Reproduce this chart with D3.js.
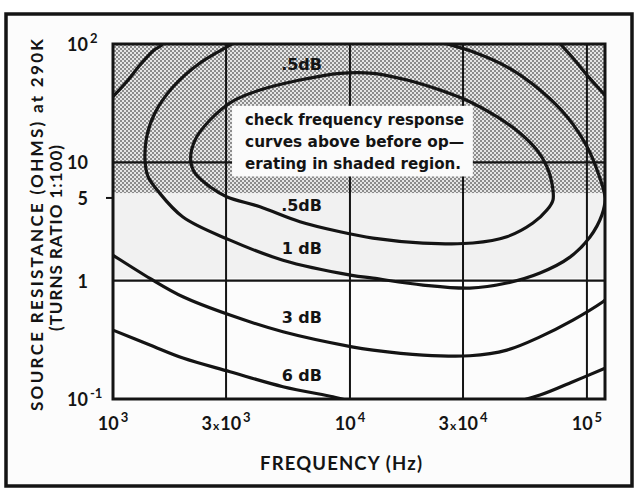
<!DOCTYPE html>
<html><head><meta charset="utf-8">
<script src="https://cdn.jsdelivr.net/npm/d3@7"></script>
<style>html,body{margin:0;padding:0;background:#fff;} svg{display:block;}</style>
</head><body>
<svg id="chart" width="634" height="488"></svg>
<script>
// ---------- data ----------
const xTicks = [1e3, 3e3, 1e4, 3e4, 1e5];
const xTickPre = ["", "3", "", "3", ""];
const xTickBase = ["10", "10", "10", "10", "10"];
const xTickExp = ["3", "3", "4", "4", "5"];
const xGrid = [3e3, 1e4, 3e4, 1e5];

const yTicks = [100, 10, 5, 1, 0.1];
const yTickBase = ["10", "10", "5", "1", "10"];
const yTickExp = ["2", "", "", "", "-1"];
const yGrid = [10, 1];

const shadeTopR = 100, shadeBottomR = 5.5;   // shaded region
const bandBottomR = 1.05;                     // faint print tone under shading

// unlabeled corner contours
const cornerLeftFreq = [1000, 1142, 1300, 1479, 1604, 1673];
const cornerLeftR = [35.9, 48.0, 66.4, 87.8, 98, 108];
const cornerRightFreq = [75700, 87500, 101300, 117200, 122700];
const cornerRightR = [104.5, 75.7, 53.0, 38.3, 34.3];

// .5 dB closed contour
const ring05Freq = [9078, 12500, 17400, 23990, 32060, 41690, 52120, 61500, 67790, 71160, 71890, 67790, 59160, 45930, 33020, 20330, 12500, 9078, 6150, 4171, 3017, 2565, 2218, 2127, 2218, 2565, 3170, 4171, 6150];
const ring05R = [56.5, 56.5, 49.6, 40.8, 32.5, 24.3, 17.7, 12.7, 9.18, 6.68, 4.80, 3.95, 3.07, 2.35, 2.08, 2.08, 2.29, 2.59, 3.15, 4.21, 5.12, 6.22, 8.1, 10.45, 15.4, 22.8, 32.5, 40.8, 49.6];

// 1 dB contour (top runs off the chart)
const ring1Freq = [3784, 3117, 2328, 1790, 1503, 1388, 1365, 1406, 1548, 1973, 3117, 5214, 10190, 12500, 20330, 32060, 45930, 63370, 84800, 103000, 115600, 119200, 112300, 100000, 82430, 63370, 45930, 33020, 23990, 19730];
const ring1R = [124, 98, 69.1, 43.3, 26.1, 16.5, 10.45, 7.56, 5.72, 3.45, 2.20, 1.49, 1.11, 1.05, 0.918, 0.865, 0.955, 1.16, 1.58, 2.34, 3.58, 4.99, 7.81, 13.6, 24.3, 40.8, 64.2, 86.1, 104.5, 121.5];

// 3 dB contour
const curve3Freq = [952, 1000, 1432, 1973, 3117, 5214, 10190, 12500, 20330, 32060, 45930, 63370, 87300, 116900, 122600];
const curve3R = [1.745, 1.64, 1.045, 0.731, 0.512, 0.370, 0.276, 0.259, 0.235, 0.232, 0.259, 0.335, 0.464, 0.663, 0.713];

// 6 dB contour (dips below the chart)
const curve6Freq = [952, 1000, 1432, 1973, 3117, 5214, 8474, 9710, 16260, 26430, 42950, 63370, 87300, 119200, 125000];
const curve6R = [0.398, 0.382, 0.286, 0.222, 0.170, 0.127, 0.1044, 0.098, 0.0855, 0.0823, 0.0887, 0.108, 0.140, 0.182, 0.19];

const dbLabels = [".5dB", ".5dB", "1 dB", "3 dB", "6 dB"];
const dbLabelR = [69, 4.44, 1.92, 0.50, 0.162];
const dbLabelFreq = 7620;

const noteFreq = [3180, 33000];
const noteR = [30, 7.6];
const noteLines = ["check  frequency  response", "curves  above  before  op\u2014", "erating in shaded region."];

// ---------- drawing ----------
const svg = d3.select("#chart");
const font = "Lato, 'DejaVu Sans', sans-serif";
const heavy = "'DejaVu Sans', sans-serif";
const ink = "#141414";
const plot = {left: 113, right: 605, top: 44, bottom: 399};
const x = d3.scaleLog().domain([1e3, 1.192e5]).range([plot.left, plot.right]);
const y = d3.scaleLog().domain([0.1, 100]).range([plot.bottom, plot.top]);

const defs = svg.append("defs");
const pat = defs.append("pattern").attr("id", "dots").attr("patternUnits", "userSpaceOnUse")
  .attr("width", 4).attr("height", 4);
pat.append("rect").attr("width", 4).attr("height", 4).attr("fill", "#e6e6e6");
pat.append("rect").attr("width", 2).attr("height", 2).attr("fill", "#8c8c8c");
pat.append("rect").attr("x", 2).attr("y", 2).attr("width", 2).attr("height", 2).attr("fill", "#8c8c8c");
defs.append("clipPath").attr("id", "clip").append("rect")
  .attr("x", plot.left).attr("y", plot.top)
  .attr("width", plot.right - plot.left).attr("height", plot.bottom - plot.top);

// page and outer frame
svg.append("rect").attr("width", 634).attr("height", 488).attr("fill", "#fff");
svg.append("rect").attr("x", 6).attr("y", 14).attr("width", 626).attr("height", 472)
  .attr("fill", "#fcfcfc").attr("stroke", ink).attr("stroke-width", 3.5);

// faint band and shaded region
svg.append("rect").attr("x", plot.left).attr("width", plot.right - plot.left)
  .attr("y", y(shadeBottomR)).attr("height", y(bandBottomR) - y(shadeBottomR)).attr("fill", "#f1f1f1");
svg.append("rect").attr("x", plot.left).attr("width", plot.right - plot.left)
  .attr("y", y(shadeTopR)).attr("height", y(shadeBottomR) - y(shadeTopR)).attr("fill", "url(#dots)");

// grid
svg.append("g").selectAll("line").data(xGrid).join("line")
  .attr("x1", d => x(d)).attr("x2", d => x(d)).attr("y1", plot.top).attr("y2", plot.bottom)
  .attr("stroke", ink).attr("stroke-width", 2);
svg.append("g").selectAll("line").data(yGrid).join("line")
  .attr("x1", plot.left).attr("x2", plot.right).attr("y1", d => y(d)).attr("y2", d => y(d))
  .attr("stroke", ink).attr("stroke-width", 2.2);

// note box
const bx0 = x(noteFreq[0]), bx1 = x(noteFreq[1]), by0 = y(noteR[0]), by1 = y(noteR[1]);
svg.append("rect").attr("x", bx0).attr("y", by0).attr("width", bx1 - bx0).attr("height", by1 - by0)
  .attr("fill", "#fbfbfb");
svg.append("g").selectAll("text").data(noteLines).join("text")
  .attr("x", bx0 + 13).attr("y", (d, i) => by0 + 19 + i * 22)
  .attr("textLength", (d, i) => i === 2 ? 216 : 219).attr("lengthAdjust", "spacingAndGlyphs")
  .attr("font-family", heavy).attr("font-weight", 700).attr("font-size", 15.5).attr("fill", ink)
  .text(d => d);

// contours
const lineOpen = d3.line().x(d => x(d[0])).y(d => y(d[1])).curve(d3.curveCatmullRom.alpha(0.5));
const lineClosed = d3.line().x(d => x(d[0])).y(d => y(d[1])).curve(d3.curveCatmullRomClosed.alpha(0.5));
const cg = svg.append("g").attr("clip-path", "url(#clip)").attr("fill", "none")
  .attr("stroke", ink).attr("stroke-width", 3.2).attr("stroke-linejoin", "round");
[[cornerLeftFreq, cornerLeftR], [cornerRightFreq, cornerRightR], [ring1Freq, ring1R],
 [curve3Freq, curve3R], [curve6Freq, curve6R]].forEach(([f, r]) => {
  cg.append("path").attr("d", lineOpen(d3.zip(f, r)));
});
cg.append("path").attr("d", lineClosed(d3.zip(ring05Freq, ring05R)));

// plot border
svg.append("rect").attr("x", plot.left).attr("y", plot.top)
  .attr("width", plot.right - plot.left).attr("height", plot.bottom - plot.top)
  .attr("fill", "none").attr("stroke", ink).attr("stroke-width", 3);
// tick at 5
svg.append("line").attr("x1", plot.left - 7).attr("x2", plot.left).attr("y1", y(5)).attr("y2", y(5))
  .attr("stroke", ink).attr("stroke-width", 2);

// dB labels
svg.append("g").selectAll("text").data(dbLabels).join("text")
  .attr("x", x(dbLabelFreq)).attr("y", (d, i) => y(dbLabelR[i]) + 7)
  .attr("text-anchor", "end").attr("font-family", heavy).attr("font-weight", 700)
  .attr("font-size", 16).attr("fill", ink).text(d => d);

// x tick labels
const xt = svg.append("g").selectAll("text").data(xTicks).join("text")
  .attr("x", d => x(d)).attr("y", 430).attr("text-anchor", "middle")
  .attr("font-family", font).attr("font-weight", 700).attr("font-size", 18).attr("fill", ink);
xt.each(function(d, i) {
  const t = d3.select(this);
  if (xTickPre[i]) {
    t.append("tspan").text(xTickPre[i]);
    t.append("tspan").attr("font-size", 12).attr("dx", 1).text("x");
  }
  t.append("tspan").attr("dx", xTickPre[i] ? 1 : 0).text(xTickBase[i]);
  t.append("tspan").attr("font-size", 13).attr("dy", -8).attr("dx", 2).text(xTickExp[i]);
});

// y tick labels
svg.append("g").selectAll("text").data(yTicks).join("text")
  .attr("x", 88).attr("y", d => y(d) + 7).attr("text-anchor", "end")
  .attr("font-family", font).attr("font-weight", 700).attr("font-size", 18).attr("fill", ink)
  .text((d, i) => yTickBase[i]);
svg.append("g").selectAll("text").data(yTicks).join("text")
  .attr("x", 90).attr("y", d => y(d) - 1)
  .attr("font-family", font).attr("font-weight", 700).attr("font-size", 13).attr("fill", ink)
  .text((d, i) => yTickExp[i]);

// axis titles
svg.append("text").attr("transform", "translate(43,225) rotate(-90)")
  .attr("text-anchor", "middle").attr("font-family", font).attr("font-weight", 700)
  .attr("font-size", 17).attr("fill", ink).attr("textLength", 372).attr("lengthAdjust", "spacing")
  .text("SOURCE RESISTANCE (OHMS) at 290K");
svg.append("text").attr("transform", "translate(62,238) rotate(-90)")
  .attr("text-anchor", "middle").attr("font-family", font).attr("font-weight", 700)
  .attr("font-size", 17).attr("fill", ink).attr("textLength", 186).attr("lengthAdjust", "spacing")
  .text("(TURNS RATIO 1:100)");
svg.append("text").attr("x", 341).attr("y", 470).attr("text-anchor", "middle")
  .attr("font-family", font).attr("font-weight", 700).attr("font-size", 18.5).attr("fill", ink)
  .attr("textLength", 162).attr("lengthAdjust", "spacing")
  .text("FREQUENCY (Hz)");
</script>
</body></html>
